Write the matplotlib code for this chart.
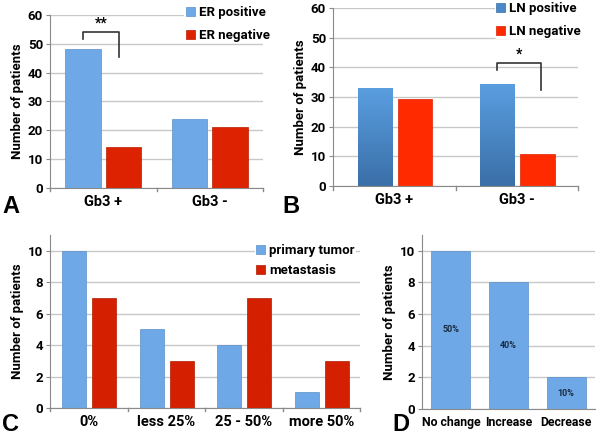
import numpy as np
import matplotlib
matplotlib.use("Agg")
import matplotlib.pyplot as plt

plt.rcParams['font.family'] = ['Roboto', 'DejaVu Sans']
plt.rcParams['font.weight'] = 'bold'
plt.rcParams['axes.labelweight'] = 'bold'

# panel A
a_cats = ["Gb3 +", "Gb3 -"]
a_er_pos = [48.2, 23.8]
a_er_neg = [14.1, 21.3]
# panel B
b_cats = ["Gb3 +", "Gb3 -"]
b_ln_pos = [33.0, 34.3]
b_ln_neg = [29.2, 10.9]
# panel C
c_cats = ["0%", "less 25%", "25 - 50%", "more 50%"]
c_primary = [10, 5, 4, 1]
c_meta = [7, 3, 7, 3]
# panel D
d_cats = ["No change", "Increase", "Decrease"]
d_vals = [10, 8, 2]
d_pct = ["50%", "40%", "10%"]

BLUE = "#6ea8e6"
RED = "#dc2200"
RED_B = "#ff2a00"
GRID = "#c8c8c8"

W, H = 600, 437
fig = plt.figure(figsize=(6, 4.37), dpi=100)


def px_axes(x0, x1, ytop, ybot):
    return fig.add_axes([x0 / W, (H - ybot) / H, (x1 - x0) / W, (ybot - ytop) / H])


def style(ax, ylim, yticks, xbounds=None, xsize=10.5):
    ax.set_ylim(*ylim)
    ax.set_yticks(yticks)
    ax.yaxis.grid(True, color=GRID, lw=1)
    ax.set_axisbelow(True)
    for s in ["top", "right"]:
        ax.spines[s].set_visible(False)
    for s in ["left", "bottom"]:
        ax.spines[s].set_color("#8a8a8a")
    ax.tick_params(axis="y", length=3, color="#8a8a8a", labelsize=9.5, pad=2)
    ax.tick_params(axis="x", length=0, labelsize=xsize, pad=5)
    if xbounds is not None:
        for xb in xbounds:
            ax.plot([xb, xb], [0, -0.02], transform=ax.get_xaxis_transform(),
                    color="#8a8a8a", lw=1, clip_on=False)
    ax.set_ylabel("Number of patients", fontsize=9.5, labelpad=3)


def bracket(ax, x0, x1, top, left_end, right_end, text):
    ax.plot([x0, x0, x1, x1], [left_end, top, top, right_end], color="#333333", lw=1.2)
    ax.text((x0 + x1) / 2, top + 0.5, text, ha="center", va="bottom", fontsize=10)


def panel_letter(xp, yp, s):
    fig.text(xp / W, 1 - yp / H, s, fontsize=17, fontweight="bold", ha="left",
             va="baseline", family="Liberation Sans")


LEG = dict(loc="upper left", frameon=True, framealpha=1, edgecolor="none", fontsize=9.5,
           handlelength=0.7, handleheight=0.7, handletextpad=0.3, borderpad=0.1,
           borderaxespad=0)

# ---- A
ax = px_axes(50, 263, 15, 188)
x = np.arange(len(a_cats))
ax.bar(x - 0.19, a_er_pos, 0.33, color=BLUE, edgecolor="#5a90c8", lw=0.5, label="ER positive")
ax.bar(x + 0.19, a_er_neg, 0.33, color=RED, edgecolor="#b81c00", lw=0.5, label="ER negative")
ax.set_xlim(-0.5, 1.5)
ax.set_xticks(x, a_cats)
style(ax, (0, 60), range(0, 61, 10), xbounds=[-0.5, 0.5, 1.5])
bracket(ax, -0.19, 0.15, 54.2, 51.7, 45.4, "**")
ax.legend(bbox_to_anchor=(0.63, 1.06), labelspacing=0.75, **LEG)
panel_letter(2, 213, "A")

# ---- B
ax = px_axes(333, 578, 8, 186)
x = np.arange(len(b_cats))
bars = ax.bar(x - 0.16, b_ln_pos, 0.28, color="#4a88c8", edgecolor="#3a6ea8", lw=0.5,
              label="LN positive")
grad = np.linspace(0, 1, 256).reshape(-1, 1)
cmap = matplotlib.colors.LinearSegmentedColormap.from_list("g", ["#3a6fa8", "#5a9ee0"])
for b in bars:
    im = ax.imshow(grad, cmap=cmap, aspect="auto", origin="lower",
                   extent=[b.get_x(), b.get_x() + b.get_width(), 0, b.get_height()], zorder=2)
    im.set_clip_path(b)
ax.bar(x + 0.17, b_ln_neg, 0.28, color=RED_B, edgecolor="#e02000", lw=0.5, label="LN negative")
ax.set_xlim(-0.5, 1.5)
ax.set_xticks(x, b_cats)
style(ax, (0, 60), range(0, 61, 10), xbounds=[-0.5, 0.5, 1.5])
bracket(ax, 0.84, 1.2, 41.5, 39.1, 32.4, "*")
ax.legend(bbox_to_anchor=(0.66, 1.04), labelspacing=0.75, **LEG)
panel_letter(282, 213, "B")

# ---- C
ax = px_axes(50, 360, 235, 408)
x = np.arange(len(c_cats))
ax.bar(x - 0.185, c_primary, 0.31, color=BLUE, edgecolor="#5a90c8", lw=0.5, label="primary tumor")
ax.bar(x + 0.2, c_meta, 0.31, color="#d42000", edgecolor="#b01a00", lw=0.5, label="metastasis")
ax.set_xlim(-0.5, 3.5)
ax.set_xticks(x, c_cats)
style(ax, (0, 11), range(0, 11, 2), xbounds=[-0.5, 0.5, 1.5, 2.5, 3.5])
ax.legend(bbox_to_anchor=(0.66, 0.955), labelspacing=0.55, **LEG)
panel_letter(2, 431, "C")

# ---- D
ax = px_axes(422, 595, 235, 409)
x = np.arange(len(d_cats))
bars = ax.bar(x, d_vals, 0.68, color=BLUE, edgecolor="#5a90c8", lw=0.5)
for b, t in zip(bars, d_pct):
    ax.text(b.get_x() + b.get_width() / 2, b.get_height() / 2, t, ha="center", va="center",
            fontsize=6.5, color="#1a2a40")
ax.set_xlim(-0.5, 2.5)
ax.set_xticks(x, d_cats)
style(ax, (0, 11), range(0, 11, 2), xsize=8.8)
panel_letter(392, 431, "D")

fig.savefig("out.png", dpi=100)
